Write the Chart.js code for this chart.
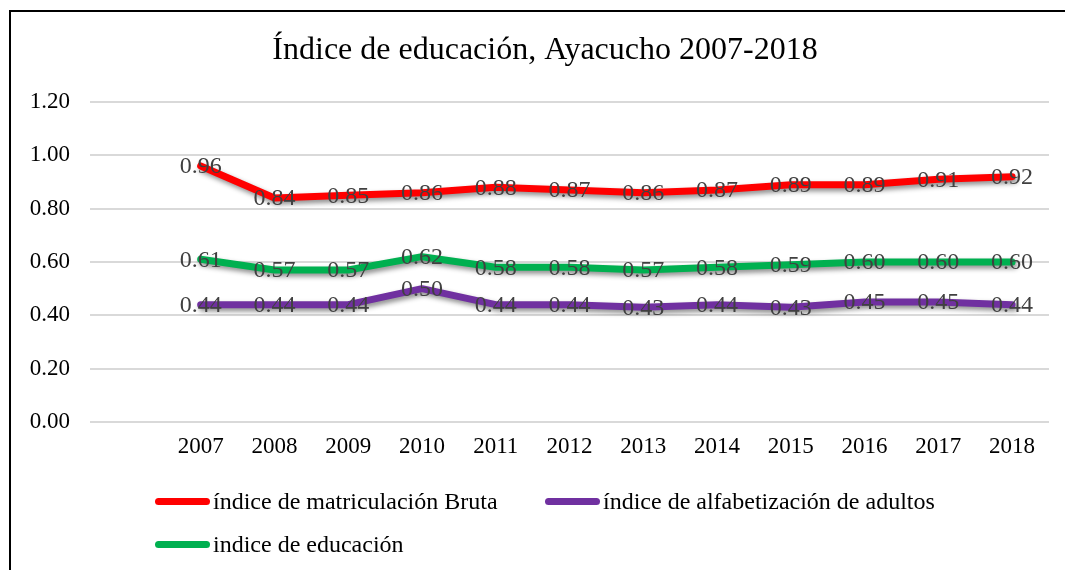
<!DOCTYPE html>
<html>
<head>
<meta charset="utf-8">
<script src="https://cdn.jsdelivr.net/npm/chart.js@4.4.1/dist/chart.umd.min.js"></script>
<style>
  html, body { margin: 0; padding: 0; background: #fff; overflow: hidden; }
  #wrap { position: relative; width: 1065px; height: 570px; }
  #frame {
    position: absolute; left: 9px; top: 10px; width: 1080px; height: 600px;
    border: 2px solid #000; box-sizing: border-box; pointer-events: none;
  }
  canvas { position: absolute; left: 0; top: 0; }
  .leg { position: absolute; font-family: "Liberation Serif", serif; font-size: 24px; line-height: 28px; color: #000; white-space: nowrap; }
  .leg i { display: inline-block; width: 55px; height: 7px; border-radius: 4px; vertical-align: middle; margin-right: 3px; position: relative; top: -2px; }
</style>
</head>
<body>
<div id="wrap">
  <canvas id="chart" width="1065" height="570"></canvas>
  <div id="frame"></div>
  <div id="legend"></div>
</div>
<script>
const years = ["2007", "2008", "2009", "2010", "2011", "2012", "2013", "2014", "2015", "2016", "2017", "2018"];
const matriculacion = [0.96, 0.84, 0.85, 0.86, 0.88, 0.87, 0.86, 0.87, 0.89, 0.89, 0.91, 0.92];
const alfabetizacion = [0.44, 0.44, 0.44, 0.50, 0.44, 0.44, 0.43, 0.44, 0.43, 0.45, 0.45, 0.44];
const educacion = [0.61, 0.57, 0.57, 0.62, 0.58, 0.58, 0.57, 0.58, 0.59, 0.60, 0.60, 0.60];
const yTicks = [0, 0.2, 0.4, 0.6, 0.8, 1.0, 1.2];
const titleText = "Índice de educación, Ayacucho 2007-2018";

const serif = "'Liberation Serif', 'Times New Roman', serif";

// first category is left empty, like the original
const labels = [""].concat(years);
const pad = (arr) => [null].concat(arr);

const series = [
  { label: "índice de matriculación Bruta", data: matriculacion, color: "#ff0000" },
  { label: "índice de alfabetización de adultos", data: alfabetizacion, color: "#7030a0" },
  { label: "indice de educación", data: educacion, color: "#00b050" },
];

const shadowPlugin = {
  id: "shadow",
  beforeDatasetDraw(chart) {
    const ctx = chart.ctx;
    ctx.save();
    ctx.shadowColor = "rgba(0,0,0,0.45)";
    ctx.shadowBlur = 5;
    ctx.shadowOffsetX = 2;
    ctx.shadowOffsetY = 3;
  },
  afterDatasetDraw(chart) {
    chart.ctx.restore();
  },
};

const labelPlugin = {
  id: "pointLabels",
  afterDatasetsDraw(chart) {
    const ctx = chart.ctx;
    ctx.save();
    ctx.font = "24px " + serif;
    ctx.fillStyle = "#404040";
    ctx.textAlign = "center";
    ctx.textBaseline = "middle";
    chart.data.datasets.forEach((ds, i) => {
      chart.getDatasetMeta(i).data.forEach((pt, j) => {
        const v = ds.data[j];
        if (v == null) return;
        ctx.fillText(v.toFixed(2), pt.x, pt.y + 1);
      });
    });
    ctx.restore();
  },
};

// title sits a bit right of the plot centre in the original
const titlePlugin = {
  id: "bigTitle",
  afterDraw(chart) {
    const ctx = chart.ctx;
    ctx.save();
    ctx.font = "32px " + serif;
    ctx.fillStyle = "#000";
    ctx.textAlign = "center";
    ctx.textBaseline = "middle";
    ctx.fillText(titleText, 545, 51);
    ctx.restore();
  },
};

new Chart(document.getElementById("chart"), {
  type: "line",
  data: {
    labels: labels,
    datasets: series.map((s) => ({
      label: s.label,
      data: pad(s.data),
      borderColor: s.color,
      backgroundColor: s.color,
      borderWidth: 7,
      pointRadius: 0,
      tension: 0,
      borderJoinStyle: "round",
      borderCapStyle: "round",
    })),
  },
  options: {
    responsive: false,
    animation: false,
    layout: { padding: { left: 0, right: 16, top: 102, bottom: 108 } },
    plugins: {
      legend: { display: false },
      tooltip: { enabled: false },
      title: { display: false },
    },
    scales: {
      x: {
        offset: true,
        grid: { display: false, drawTicks: false },
        border: { display: false },
        ticks: { color: "#000", font: { family: serif, size: 23 }, padding: 11, maxRotation: 0, autoSkip: false },
        afterFit(scale) { scale.height = 40; },
      },
      y: {
        min: 0,
        max: 1.2,
        afterBuildTicks(scale) { scale.ticks = yTicks.map((v) => ({ value: v })); },
        grid: { color: "#d9d9d9", lineWidth: 2, drawTicks: false },
        border: { display: false },
        ticks: { color: "#000", font: { family: serif, size: 23 }, padding: 20, callback: (v) => v.toFixed(2) },
        afterFit(scale) { scale.width = 90; },
      },
    },
  },
  plugins: [shadowPlugin, labelPlugin, titlePlugin],
});

// legend laid out like the original: two items on the first row, one below
const legendPos = [
  { left: 155, top: 487 },
  { left: 545, top: 487 },
  { left: 155, top: 530 },
];
const legend = document.getElementById("legend");
series.forEach((s, i) => {
  const d = document.createElement("div");
  d.className = "leg";
  d.style.left = legendPos[i].left + "px";
  d.style.top = legendPos[i].top + "px";
  d.innerHTML = '<i style="background:' + s.color + '"></i>' + s.label;
  legend.appendChild(d);
});
</script>
</body>
</html>
